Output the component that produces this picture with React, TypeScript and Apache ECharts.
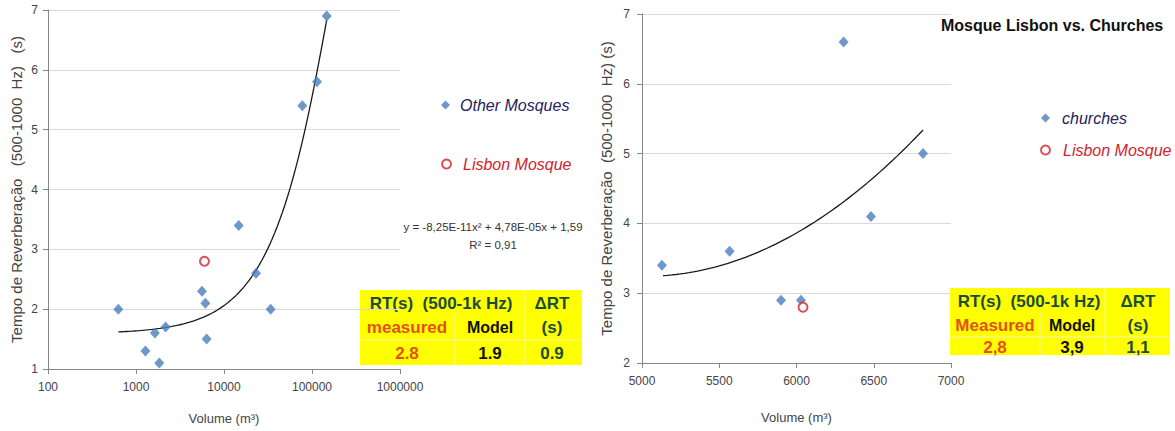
import React, { useEffect, useRef } from "react";
import * as echarts from "echarts";

// ---------- data ----------
const leftXTicks = [100, 1000, 10000, 100000, 1000000];
const otherMosquesVolume = [630, 1280, 1640, 1840, 2170, 5620, 6140, 6350, 14700, 23100, 33900, 77600, 114000, 147000];
const otherMosquesRT = [2.0, 1.3, 1.6, 1.1, 1.7, 2.3, 2.1, 1.5, 3.4, 2.6, 2.0, 5.4, 5.8, 6.9];
const lisbonLeftVolume = [6000];
const lisbonLeftRT = [2.8];
// trend line shown on the chart: y = -8,25E-11x² + 4,78E-05x + 1,59
const leftTrendCoef = [-8.25e-11, 4.78e-5, 1.59];
const leftTrendRange = [630, 147000];

const rightXTicks = [5000, 5500, 6000, 6500, 7000];
const churchesVolume = [5129, 5567, 5900, 6029, 6305, 6482, 6819];
const churchesRT = [3.4, 3.6, 2.9, 2.9, 6.6, 4.1, 5.0];
const lisbonRightVolume = [6042];
const lisbonRightRT = [2.8];
const rightTrendCoef = [6.494e-7, -0.0065237, 19.6265];
const rightTrendRange = [5136, 6819];

const leftTableHeader = ["RT(s)  (500-1k Hz)", "\u0394RT"];
const leftTableLabels = ["measured", "Model", "(s)"];
const leftTableValues = ["2.8", "1.9", "0.9"];
const rightTableHeader = ["RT(s)  (500-1k Hz)", "\u0394RT"];
const rightTableLabels = ["Measured", "Model", "(s)"];
const rightTableValues = ["2,8", "3,9", "1,1"];

const equationLines = ["y = -8,25E-11x\u00b2 + 4,78E-05x + 1,59", "R\u00b2 = 0,91"];
const rightTitle = "Mosque Lisbon vs. Churches";

// ---------- helpers ----------
const FONT = '"Liberation Sans", Arial, sans-serif';
const BLUE = "#4a7ebb";
const RED = "#d2232e";
const TEAL = "#1a4d3c";
const ORANGE = "#e4501c";

function quad(c: number[], x: number) {
  return c[0] * x * x + c[1] * x + c[2];
}

function trendLog(c: number[], r: number[], n: number) {
  const out: number[][] = [];
  const a = Math.log10(r[0]);
  const b = Math.log10(r[1]);
  for (let i = 0; i <= n; i++) {
    const x = Math.pow(10, a + ((b - a) * i) / n);
    out.push([x, quad(c, x)]);
  }
  return out;
}

function trendLin(c: number[], r: number[], n: number) {
  const out: number[][] = [];
  for (let i = 0; i <= n; i++) {
    const x = r[0] + ((r[1] - r[0]) * i) / n;
    out.push([x, quad(c, x)]);
  }
  return out;
}

function zip(xs: number[], ys: number[]) {
  return xs.map((x, i) => [x, ys[i]]);
}

function txt(text: string, x: number, y: number, fill: string, font: string, align = "center") {
  return {
    type: "text",
    x,
    y,
    silent: true,
    style: {
      text,
      fill,
      font,
      textAlign: align,
      textVerticalAlign: "middle",
      verticalAlign: "middle",
    },
  };
}

function table(
  box: { x0: number; x1: number; y0: number; y1: number },
  vSep: number[],
  hSep: number,
  rows: number[],
  cols: number[],
  headerX: number,
  header: string[],
  labels: string[],
  values: string[]
) {
  const bold17 = `bold 17px ${FONT}`;
  const bold16 = `bold 16px ${FONT}`;
  const sep = "#f2f2b0";
  return [
    {
      type: "rect",
      silent: true,
      shape: { x: box.x0, y: box.y0, width: box.x1 - box.x0, height: box.y1 - box.y0 },
      style: { fill: "#ffff00" },
    },
    {
      type: "line",
      silent: true,
      shape: { x1: vSep[0], y1: rows[0] + 11, x2: vSep[0], y2: box.y1 },
      style: { stroke: sep, lineWidth: 1 },
    },
    {
      type: "line",
      silent: true,
      shape: { x1: vSep[1], y1: box.y0, x2: vSep[1], y2: box.y1 },
      style: { stroke: sep, lineWidth: 1 },
    },
    {
      type: "line",
      silent: true,
      shape: { x1: box.x0, y1: hSep, x2: box.x1, y2: hSep },
      style: { stroke: sep, lineWidth: 1 },
    },
    txt(header[0], headerX, rows[0], TEAL, bold17),
    txt(header[1], cols[2], rows[0], TEAL, bold17),
    txt(labels[0], cols[0], rows[1], ORANGE, bold17),
    txt(labels[1], cols[1], rows[1], "#111111", bold16),
    txt(labels[2], cols[2], rows[1], TEAL, bold17),
    txt(values[0], cols[0], rows[2], ORANGE, bold17),
    txt(values[1], cols[1], rows[2], "#111111", bold17),
    txt(values[2], cols[2], rows[2], TEAL, bold17),
  ];
}

const axisCommon = {
  axisLine: { show: true, lineStyle: { color: "#868686", width: 1 } },
  axisTick: { show: true, length: 5, lineStyle: { color: "#868686" } },
  axisLabel: { color: "#444444", fontSize: 12, fontFamily: FONT },
  nameTextStyle: { color: "#444444", fontFamily: FONT },
};

export default function App() {
  const ref = useRef<HTMLDivElement>(null);

  useEffect(() => {
    document.body.style.margin = "0";
    if (!ref.current) return;
    const chart = echarts.init(ref.current, undefined, { renderer: "svg" });

    const legendBase = {
      orient: "vertical",
      padding: 0,
      itemWidth: 9,
      itemHeight: 9,
      selectedMode: false,
    };
    const legendText = (pad: number) => ({
      fontSize: 16,
      fontStyle: "italic",
      fontFamily: FONT,
      padding: [0, 0, 0, pad],
    });

    const option: any = {
      animation: false,
      backgroundColor: "#ffffff",
      textStyle: { fontFamily: FONT },
      title: {
        text: rightTitle,
        left: 941,
        top: 17,
        padding: 0,
        textStyle: { fontSize: 16, fontWeight: "bold", color: "#111111", fontFamily: FONT },
      },
      legend: [
        {
          ...legendBase,
          left: 441,
          top: 97,
          textStyle: legendText(5),
          data: [{ name: "Other Mosques", icon: "diamond", textStyle: { color: "#25245e" } }],
        },
        {
          ...legendBase,
          left: 441,
          top: 156,
          textStyle: legendText(7),
          data: [{ name: "Lisbon Mosque", textStyle: { color: RED } }],
        },
        {
          ...legendBase,
          left: 1041,
          top: 110,
          textStyle: legendText(7),
          data: [{ name: "churches", icon: "diamond", textStyle: { color: "#25245e" } }],
        },
        {
          ...legendBase,
          left: 1040,
          top: 142,
          textStyle: legendText(8),
          data: [{ name: "Lisbon Mosque", textStyle: { color: RED } }],
        },
      ],
      grid: [
        { left: 48, top: 10, width: 352, height: 359 },
        { left: 642, top: 14, width: 309, height: 349 },
      ],
      xAxis: [
        {
          ...axisCommon,
          gridIndex: 0,
          type: "log",
          logBase: 10,
          min: leftXTicks[0],
          max: leftXTicks[leftXTicks.length - 1],
          splitLine: { show: false },
          axisLabel: {
            ...axisCommon.axisLabel,
            margin: 12,
            formatter: (v: number) => String(Math.round(v)),
          },
          name: "Volume (m\u00b3)",
          nameLocation: "middle",
          nameGap: 43,
          nameTextStyle: { ...axisCommon.nameTextStyle, fontSize: 13 },
        },
        {
          ...axisCommon,
          gridIndex: 1,
          type: "value",
          min: rightXTicks[0],
          max: rightXTicks[rightXTicks.length - 1],
          interval: rightXTicks[1] - rightXTicks[0],
          splitLine: { show: false },
          axisLabel: {
            ...axisCommon.axisLabel,
            margin: 12,
            formatter: (v: number) => String(v),
          },
          name: "Volume (m\u00b3)",
          nameLocation: "middle",
          nameGap: 48,
          nameTextStyle: { ...axisCommon.nameTextStyle, fontSize: 13 },
        },
      ],
      yAxis: [
        {
          ...axisCommon,
          gridIndex: 0,
          type: "value",
          min: 1,
          max: 7,
          interval: 1,
          splitLine: { show: true, lineStyle: { color: "#d9d9d9", width: 1 } },
          axisLabel: { ...axisCommon.axisLabel, margin: 10 },
          name: "Tempo de Reverbera\u00e7\u00e3o\u00a0\u00a0\u00a0(500-1000\u00a0\u00a0Hz)\u00a0\u00a0\u00a0(s)",
          nameLocation: "middle",
          nameRotate: 90,
          nameGap: 24,
          nameTextStyle: { ...axisCommon.nameTextStyle, fontSize: 15 },
        },
        {
          ...axisCommon,
          gridIndex: 1,
          type: "value",
          min: 2,
          max: 7,
          interval: 1,
          splitLine: { show: true, lineStyle: { color: "#d9d9d9", width: 1 } },
          axisLabel: { ...axisCommon.axisLabel, margin: 12 },
          name: "Tempo de Reverbera\u00e7\u00e3o\u00a0\u00a0(500-1000\u00a0\u00a0Hz)\u00a0(s)",
          nameLocation: "middle",
          nameRotate: 90,
          nameGap: 28,
          nameTextStyle: { ...axisCommon.nameTextStyle, fontSize: 15 },
        },
      ],
      series: [
        {
          name: "Other Mosques",
          type: "scatter",
          xAxisIndex: 0,
          yAxisIndex: 0,
          symbol: "diamond",
          symbolSize: [10, 11],
          itemStyle: { color: BLUE },
          data: zip(otherMosquesVolume, otherMosquesRT),
          z: 3,
        },
        {
          name: "Lisbon Mosque",
          type: "scatter",
          xAxisIndex: 0,
          yAxisIndex: 0,
          symbol: "emptyCircle",
          symbolSize: 9,
          itemStyle: { color: RED, borderColor: RED, borderWidth: 2.5 },
          data: zip(lisbonLeftVolume, lisbonLeftRT),
          z: 4,
        },
        {
          name: "Trend mosques",
          type: "line",
          xAxisIndex: 0,
          yAxisIndex: 0,
          showSymbol: false,
          silent: true,
          lineStyle: { color: "#1a1a1a", width: 1.3 },
          data: trendLog(leftTrendCoef, leftTrendRange, 80),
          z: 2,
        },
        {
          name: "churches",
          type: "scatter",
          xAxisIndex: 1,
          yAxisIndex: 1,
          symbol: "diamond",
          symbolSize: [10, 11],
          itemStyle: { color: BLUE },
          data: zip(churchesVolume, churchesRT),
          z: 3,
        },
        {
          name: "Lisbon Mosque",
          type: "scatter",
          xAxisIndex: 1,
          yAxisIndex: 1,
          symbol: "emptyCircle",
          symbolSize: 9,
          itemStyle: { color: RED, borderColor: RED, borderWidth: 2.5 },
          data: zip(lisbonRightVolume, lisbonRightRT),
          z: 4,
        },
        {
          name: "Trend churches",
          type: "line",
          xAxisIndex: 1,
          yAxisIndex: 1,
          showSymbol: false,
          silent: true,
          lineStyle: { color: "#1a1a1a", width: 1.3 },
          data: trendLin(rightTrendCoef, rightTrendRange, 60),
          z: 2,
        },
      ],
      graphic: [
        txt(equationLines[0], 493, 227, "#333333", `11.5px ${FONT}`),
        txt(equationLines[1], 493, 245, "#333333", `11.5px ${FONT}`),
        ...table(
          { x0: 360, x1: 582, y0: 290, y1: 365 },
          [455, 525],
          340,
          [303, 327, 353],
          [407, 490, 552],
          441,
          leftTableHeader,
          leftTableLabels,
          leftTableValues
        ),
        ...table(
          { x0: 950, x1: 1170, y0: 288, y1: 355 },
          [1040, 1105],
          337,
          [301, 325, 347],
          [995, 1072, 1138],
          1029,
          rightTableHeader,
          rightTableLabels,
          rightTableValues
        ),
      ],
    };

    chart.setOption(option);
    return () => {
      chart.dispose();
    };
  }, []);

  return <div ref={ref} style={{ width: 1175, height: 431 }} />;
}
